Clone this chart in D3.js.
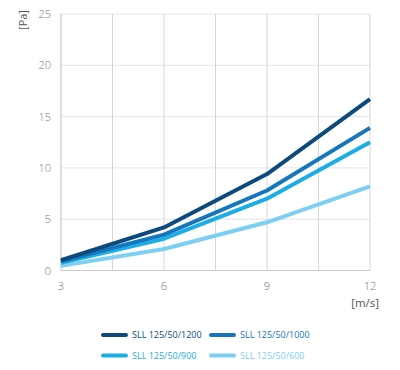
<!DOCTYPE html>
<html>
<head>
<meta charset="utf-8">
<script src="https://cdn.jsdelivr.net/npm/d3@7"></script>
<style>
  body { margin: 0; background: #fff; font-family: "Open Sans", sans-serif; }
</style>
</head>
<body>
<div id="chart"></div>
<script>
// velocity [m/s]
var speeds = [3, 6, 9, 12];
var seriesNames = ["SLL 125/50/1200", "SLL 125/50/1000", "SLL 125/50/900", "SLL 125/50/600"];
var seriesColors = ["#0b4a7a", "#1576bd", "#1bade5", "#7ccff2"];
// pressure drop [Pa]
var sll1200 = [1.0, 4.2, 9.4, 16.7];
var sll1000 = [0.9, 3.5, 7.8, 13.9];
var sll900 = [0.75, 3.1, 7.0, 12.5];
var sll600 = [0.45, 2.1, 4.7, 8.2];
var yTicks = [0, 5, 10, 15, 20, 25];
var xGrid = [3, 4.5, 6, 7.5, 9, 10.5, 12];

var allSeries = [sll1200, sll1000, sll900, sll600];

var width = 400, height = 370;
var svg = d3.select("#chart").append("svg")
    .attr("width", width)
    .attr("height", height);

var x = d3.scaleLinear().domain([3, 12]).range([61, 370]);
var y = d3.scaleLinear().domain([0, 25]).range([270.5, 14]);

// grid
svg.append("g").selectAll("line")
  .data(yTicks.slice(1))
  .enter().append("line")
  .attr("x1", x(3)).attr("x2", x(12))
  .attr("y1", d => y(d)).attr("y2", d => y(d))
  .attr("stroke", "#e3e3e3").attr("stroke-width", 1);

svg.append("g").selectAll("line")
  .data(xGrid.slice(1))
  .enter().append("line")
  .attr("x1", d => x(d)).attr("x2", d => x(d))
  .attr("y1", y(0)).attr("y2", y(25))
  .attr("stroke", "#d6d6d6").attr("stroke-width", 1);

// axis lines
svg.append("line")
  .attr("x1", x(3)).attr("x2", x(3)).attr("y1", y(0)).attr("y2", y(25))
  .attr("stroke", "#c8c8c8").attr("stroke-width", 1.2);
svg.append("line")
  .attr("x1", x(3)).attr("x2", x(12)).attr("y1", y(0)).attr("y2", y(0))
  .attr("stroke", "#c8c8c8").attr("stroke-width", 1.2);

// tick labels
svg.append("g").selectAll("text")
  .data(yTicks)
  .enter().append("text")
  .attr("x", 51).attr("y", d => y(d) + 4)
  .attr("text-anchor", "end")
  .attr("font-size", 11).attr("font-weight", 300).attr("fill", "#777")
  .text(d => d);

svg.append("g").selectAll("text")
  .data(speeds)
  .enter().append("text")
  .attr("x", d => x(d)).attr("y", 290)
  .attr("text-anchor", "middle")
  .attr("font-size", 11).attr("font-weight", 300).attr("fill", "#777")
  .text(d => d);

// units
svg.append("text")
  .attr("transform", "translate(27,20) rotate(-90)")
  .attr("text-anchor", "middle")
  .attr("font-size", 11).attr("fill", "#555")
  .text("[Pa]");
svg.append("text")
  .attr("x", 379).attr("y", 307)
  .attr("text-anchor", "end")
  .attr("font-size", 11.5).attr("fill", "#555")
  .text("[m/s]");

// lines (draw lightest first so darker sits on top)
var line = d3.line()
  .x((d, i) => x(speeds[i]))
  .y(d => y(d));

svg.append("g").selectAll("path")
  .data(allSeries.map((s, i) => ({ values: s, color: seriesColors[i] })).reverse())
  .enter().append("path")
  .attr("d", d => line(d.values))
  .attr("fill", "none")
  .attr("stroke", d => d.color)
  .attr("stroke-width", 4)
  .attr("stroke-linejoin", "round");

// legend
var legend = svg.append("g").selectAll("g")
  .data(seriesNames)
  .enter().append("g")
  .attr("transform", (d, i) => "translate(" + (i % 2 == 0 ? 103 : 211) + "," + (i < 2 ? 335 : 355.5) + ")");

legend.append("line")
  .attr("x1", 0).attr("x2", 23).attr("y1", 0).attr("y2", 0)
  .attr("stroke", (d, i) => seriesColors[i])
  .attr("stroke-width", 4)
  .attr("stroke-linecap", "round");

legend.append("text")
  .attr("x", 29).attr("y", 3.2)
  .attr("font-size", 9).attr("fill", (d, i) => seriesColors[i])
  .text(d => d);
</script>
</body>
</html>
